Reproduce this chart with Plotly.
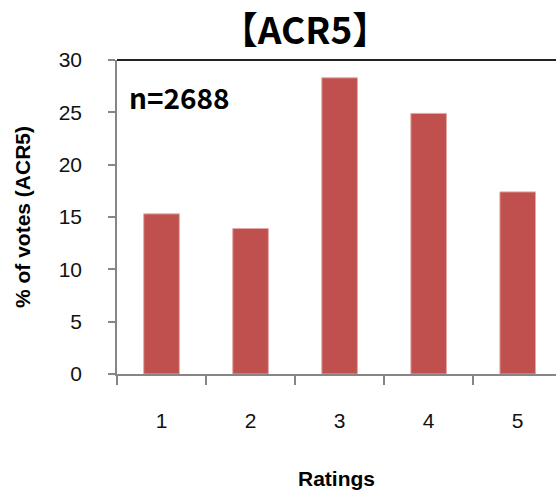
import plotly.graph_objects as go

ratings = ["1", "2", "3", "4", "5"]
votes_pct = [15.3, 13.9, 28.3, 24.9, 17.4]
y_ticks = [0, 5, 10, 15, 20, 25, 30]
title_text = "【ACR5】"
n_label = "n=2688"

fig = go.Figure()
fig.add_trace(go.Bar(
    x=ratings, y=votes_pct, width=0.4,
    marker=dict(color="#C0504D", line=dict(color="#E3A9A8", width=1)),
))

axis_gray = "#868686"
font_main = "Liberation Sans, Arial, sans-serif"
fig.update_layout(
    width=556, height=493,
    margin=dict(l=117, r=0, t=60, b=119),
    paper_bgcolor="white", plot_bgcolor="white",
    showlegend=False,
    title=dict(text="<b>" + title_text + "</b>", x=305/556, xanchor="center",
               y=1 - 31/493, yanchor="middle",
               font=dict(family="Noto Sans CJK JP", size=37, color="black")),
    xaxis=dict(type="category", range=[-0.5, 4.43], showline=True, linecolor=axis_gray,
               linewidth=1.5, ticks="outside", tickcolor=axis_gray, ticklen=9, tickwidth=1.5,
               tickson="boundaries", showgrid=False, zeroline=False,
               tickfont=dict(family=font_main, size=21, color="#111"),
               ticklabelstandoff=27,
               title=dict(text="<b>Ratings</b>", standoff=40,
                          font=dict(family=font_main, size=21, color="black"))),
    yaxis=dict(range=[0, 30], tickvals=y_ticks, showline=True, linecolor=axis_gray,
               linewidth=1.5, ticks="outside", tickcolor=axis_gray, ticklen=7, tickwidth=1.5,
               showgrid=False, zeroline=False,
               tickfont=dict(family=font_main, size=21, color="#111"),
               ticklabelstandoff=22,
               title=dict(text="<b>% of votes (ACR5)</b>", standoff=22,
                          font=dict(family=font_main, size=21, color="black"))),
)

fig.add_shape(type="line", xref="paper", yref="paper", x0=0, x1=1, y0=1, y1=1,
              line=dict(color="#222", width=2))

fig.add_annotation(text="<b>" + n_label + "</b>", xref="paper", yref="paper",
                   x=10/439, y=1 - 37/314, xanchor="left", yanchor="middle", showarrow=False,
                   font=dict(family="Noto Sans CJK JP", size=28, color="black"))

fig.write_html("out.html")
